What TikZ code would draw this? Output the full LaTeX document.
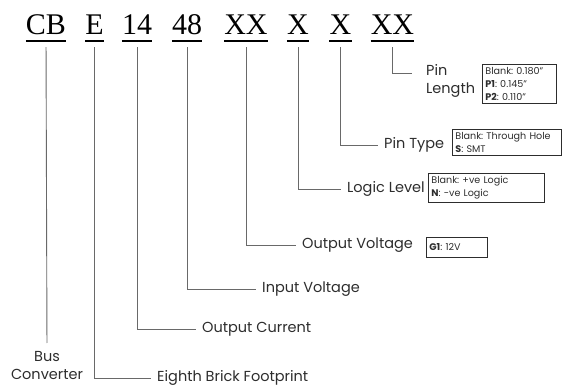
\documentclass[tikz,border=0pt]{standalone}
\usepackage{fontspec}
\setmainfont{Poppins}
\newfontfamily\partfont{Liberation Serif}
\usepackage{tikz}
\usetikzlibrary{positioning,calc}
\definecolor{linegray}{RGB}{105,105,105}
\definecolor{textgray}{RGB}{45,45,45}

\begin{document}
\begin{tikzpicture}[x=1pt,y=-1pt,
    part/.style={font=\partfont\fontsize{30}{30}\selectfont, inner sep=0pt, anchor=base, text depth=0pt},
    lbl/.style={font=\fontsize{14.5}{18}\selectfont, text=textgray, inner sep=0pt, anchor=west},
    opts/.style={draw=textgray, line width=0.8pt, font=\frenchspacing\fontsize{9.6}{13}\selectfont, text=textgray, align=left, anchor=west, inner sep=3pt},
    conn/.style={draw=linegray, line width=0.9pt, shorten <=12pt, shorten >=6pt},
    uline/.style={line width=1.8pt}]
  \useasboundingbox (0,0) rectangle (563,390);

  % part number fields
  \node[part] (cb)  at (46,35)    {CB};
  \node[part] (e)   at (94.5,35)  {E};
  \node[part] (cur) at (137,35)   {14};
  \node[part] (vin) at (187,35)   {48};
  \node[part] (out) at (246,35)   {XX};
  \node[part] (lgc) at (298,35)   {X};
  \node[part] (pin) at (340.5,35) {X};
  \node[part] (len) at (392.5,35) {XX};
  \foreach \p in {cb,e,cur,vin,out,lgc,pin,len}
    \draw[uline] ([yshift=-6pt]\p.south west) -- ([yshift=-6pt]\p.south east);

  % field names
  \node[lbl, anchor=north, align=center] (bus) at (47,351) {Bus\\Converter};
  \node[lbl] (eighth)  at (157,378) {Eighth Brick Footprint};
  \node[lbl] (outcur)  at (202,329) {Output Current};
  \node[lbl] (involt)  at (262,289) {Input Voltage};
  \node[lbl] (outvolt) at (302,245) {Output Voltage};
  \node[lbl] (logic)   at (347,189) {Logic Level};
  \node[lbl] (pintype) at (384,145) {Pin Type};
  \node[lbl, anchor=north west, align=left] (pinlen) at (426,64) {Pin\\Length};
  \coordinate (pinend) at (412,73);

  % option boxes
  \node[opts, text width=55pt, minimum height=20pt] (g1box) at (426,247) {\textbf{G1}: 12V};
  \node[opts, text width=110pt] (logicbox) at (428,187.5) {Blank: +ve Logic\\\textbf{N}: -ve Logic};
  \node[opts, text width=103pt] (typebox)  at (452,142)   {Blank: Through Hole\\\textbf{S}: SMT};
  \node[opts, text width=68pt]  (lenbox)   at (482,84)    {Blank: 0.180"\\\textbf{P1}: 0.145"\\\textbf{P2}: 0.110"};

  % leaders
  \draw[conn, shorten >=8pt] (cb.south) -- (bus.north);
  \draw[conn] (e.south) |- (eighth.west);
  \draw[conn] (cur.south) |- (outcur.west);
  \draw[conn] (vin.south) |- (involt.west);
  \draw[conn] (out.south) |- (outvolt.west);
  \draw[conn] (lgc.south) |- (logic.west);
  \draw[conn] (pin.south) |- (pintype.west);
  \draw[conn, shorten >=0pt] (len.south) |- (pinend);
\end{tikzpicture}
\end{document}
